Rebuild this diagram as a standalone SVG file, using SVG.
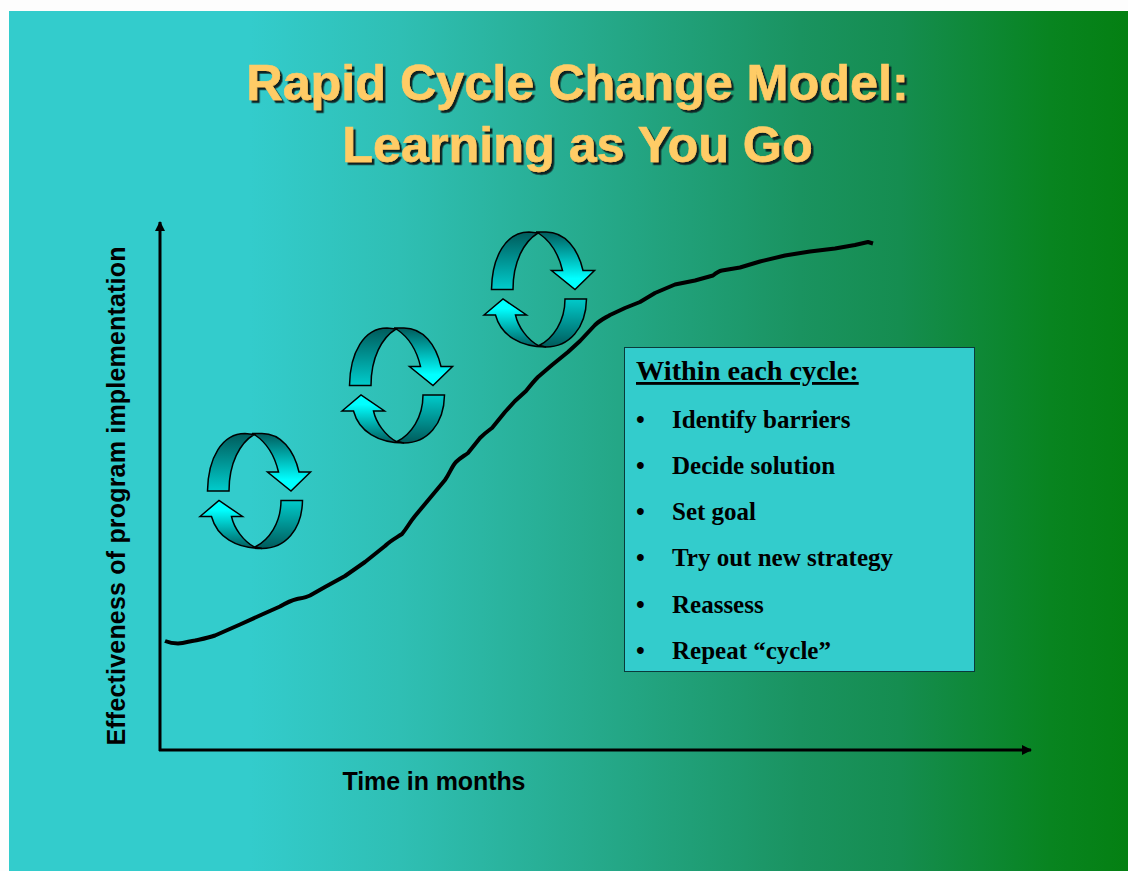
<svg xmlns="http://www.w3.org/2000/svg" xmlns:xlink="http://www.w3.org/1999/xlink" width="1128" height="871" viewBox="0 0 1128 871">
<style>
.title{font-family:"Liberation Sans",Arial,sans-serif;font-weight:bold;font-size:50.300px;text-anchor:middle;fill:#ffcc66;stroke:#ffcc66;stroke-width:0.600;filter:url(#sh)}
.axis{font-family:"Liberation Sans",Arial,sans-serif;font-weight:bold;font-size:25px;fill:#000}
.item{font-family:"Liberation Serif","Times New Roman",serif;font-weight:bold;font-size:25px;fill:#000}
.ax{fill:none;stroke:#000;stroke-width:3}
.ic{stroke:#000;stroke-width:1.500;stroke-linejoin:miter}
</style>
<defs>
<filter id="sh" x="-5%" y="-20%" width="110%" height="140%"><feDropShadow dx="2.500" dy="2.700" stdDeviation="0.500" flood-color="#102020" flood-opacity="1"/></filter>
<linearGradient id="bg" gradientUnits="userSpaceOnUse" x1="9" y1="0" x2="1128" y2="0">
<stop offset="0" stop-color="#33cccc"/><stop offset="0.215" stop-color="#33cccc"/><stop offset="0.349" stop-color="#2fbfb4"/><stop offset="0.528" stop-color="#25a98a"/><stop offset="0.707" stop-color="#1a9360"/><stop offset="0.796" stop-color="#158d50"/><stop offset="0.93" stop-color="#088420"/><stop offset="1" stop-color="#048012"/>
</linearGradient>
<linearGradient id="tl" gradientUnits="userSpaceOnUse" x1="0" y1="433" x2="0" y2="491"><stop offset="0" stop-color="#005a5a"/><stop offset="1" stop-color="#00cccc"/></linearGradient>
<linearGradient id="tr" gradientUnits="userSpaceOnUse" x1="0" y1="433" x2="0" y2="480"><stop offset="0" stop-color="#005a5a"/><stop offset="1" stop-color="#00ffff"/></linearGradient>
<linearGradient id="bl" gradientUnits="userSpaceOnUse" x1="0" y1="549" x2="0" y2="510"><stop offset="0" stop-color="#005a5a"/><stop offset="1" stop-color="#00ffff"/></linearGradient>
<linearGradient id="br" gradientUnits="userSpaceOnUse" x1="0" y1="549" x2="0" y2="500"><stop offset="0" stop-color="#005a5a"/><stop offset="1" stop-color="#00cccc"/></linearGradient>
<marker id="ah" viewBox="0 0 10 10" refX="9" refY="5" markerWidth="10" markerHeight="10" markerUnits="userSpaceOnUse" orient="auto"><path d="M0,0 L10,5 L0,10 Z" fill="#000"/></marker>
<g id="cycle">
<path class="ic" fill="url(#tr)" d="M252,433.500 L262,433.500 C281,433.500 294,450 299,472 L310.500,472 L291,491 L267.500,472 L278.500,472 C275,457 267,443 255,435 Z"/>
<path class="ic" fill="url(#tl)" d="M207.500,491 C208,458 222,433.500 245,433.500 L254,434.500 C240,443 229,463 229,491 Z"/>
<path class="ic" fill="url(#br)" d="M281,500.500 L302.500,500.500 C302,530 285,548.500 262,548.500 L255,547 C269,540 281,523 281,500.500 Z"/>
<path class="ic" fill="url(#bl)" d="M200,516.500 L219,500.500 L242.500,516.500 L231.500,516.500 C234,528 243,541 255,547.500 L262,548.500 C236,548.500 217,537 211.500,516.500 Z"/>
</g>
</defs>
<rect x="0" y="0" width="1128" height="871" fill="#fdfdfd"/>
<rect x="9" y="11" width="1119" height="860" fill="url(#bg)"/>
<g id="title">
<text class="title" x="577.500" y="100.300">Rapid Cycle Change Model:</text>
<text class="title" x="577.500" y="162.300">Learning as You Go</text>
</g>
<g id="connectors">
<path class="ax" d="M160,751 L160,222" marker-end="url(#ah)"/>
<path class="ax" d="M159,750 L1031,750" marker-end="url(#ah)"/>
<path id="curve" fill="none" stroke="#000" stroke-width="4" stroke-linejoin="round" d="M165,641 C170,643 175,643.500 178,643.500 C185,643 190,641 195,640.500 C202,639 208,638 215,635.500 L240,624.500 L262,614.500 L280,606.500 C286,603 291,600.500 297,599 C302,598 306,597.500 310,595.500 L325,587 L345,576 L365,562 L385,546 C390,541 396,538 402,534 C407,528 410,522 415,516 L430,498 L445,480 C450,473 452,466 456,462 C460,458 464,456 468,453 L480,438 C485,433 488,431 492,428 L505,412 L515,401 L526,391 C530,386 534,381 538,377 L552,365 L568,352 L580,341 L595,325 C600,320 605,318 610,315 L625,308 L640,302 L655,293 L675,284.500 L695,280.500 L713,275.500 C716,273 719,271 722,270.500 L740,267.500 L760,261.500 L785,255.500 L810,251.500 L835,248.500 L855,245 L868,242 L873,243.500"/>
</g>
<g id="cycle-1"><use href="#cycle" xlink:href="#cycle"/></g>
<g id="cycle-2"><use href="#cycle" xlink:href="#cycle" transform="translate(142,-105.500)"/></g>
<g id="cycle-3"><use href="#cycle" xlink:href="#cycle" transform="translate(284,-201.500)"/></g>
<g id="y-label"><text class="axis" transform="translate(125,745.500) rotate(-90)" textLength="499" lengthAdjust="spacing">Effectiveness of program implementation</text></g>
<g id="x-label"><text class="axis" x="342.500" y="790" textLength="183" lengthAdjust="spacing">Time in months</text></g>
<g id="box">
<rect x="624.500" y="347.500" width="350" height="324" fill="#33cccc" stroke="#0a3a3a" stroke-width="1"/>
<text class="item" x="636" y="380" style="font-size:28.300px;text-decoration:underline">Within each cycle:</text>
<text class="item" x="636" y="427.500">•</text><text class="item" x="672" y="427.500">Identify barriers</text>
<text class="item" x="636" y="473.500">•</text><text class="item" x="672" y="473.500">Decide solution</text>
<text class="item" x="636" y="519.500">•</text><text class="item" x="672" y="519.500">Set goal</text>
<text class="item" x="636" y="565.500">•</text><text class="item" x="672" y="565.500">Try out new strategy</text>
<text class="item" x="636" y="612.500">•</text><text class="item" x="672" y="612.500">Reassess</text>
<text class="item" x="636" y="658.500">•</text><text class="item" x="672" y="658.500">Repeat “cycle”</text>
</g>
</svg>
